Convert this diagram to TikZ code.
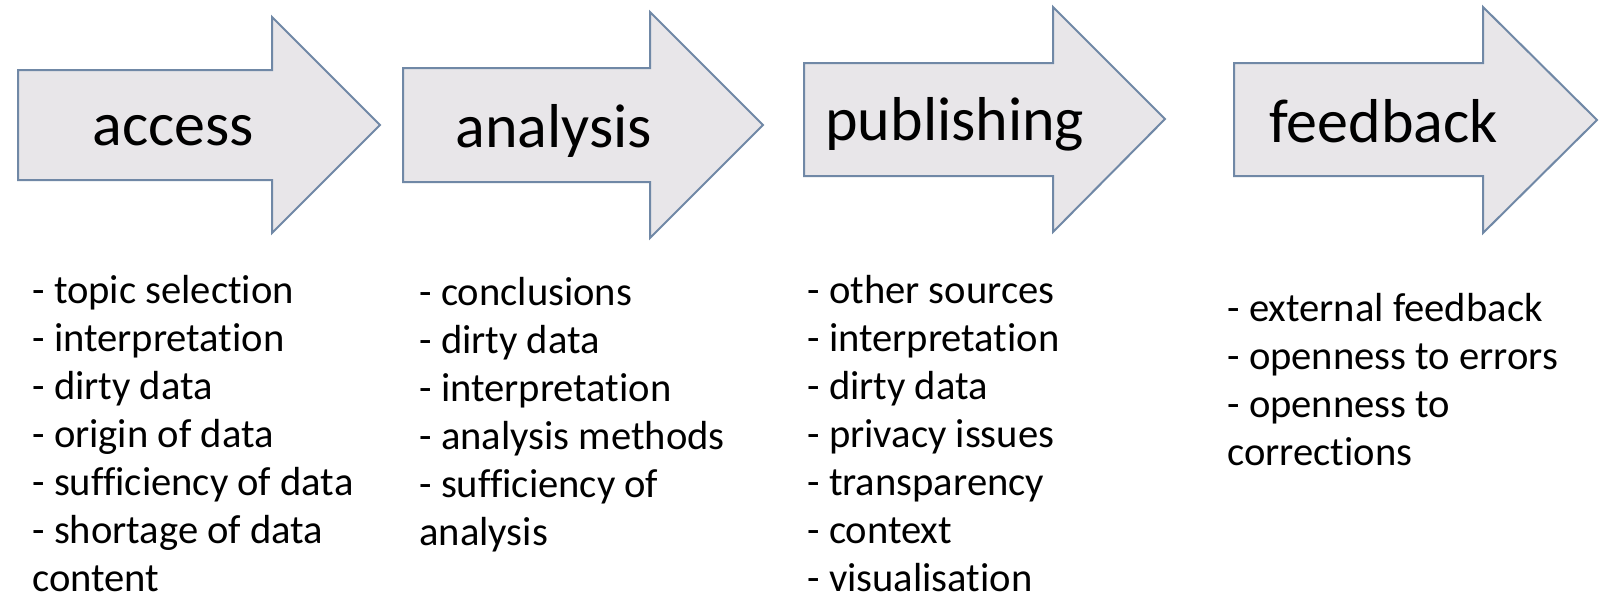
\documentclass[tikz,border=0pt]{standalone}
\usepackage{fontspec}
\setmainfont{Carlito}[Ligatures={NoCommon}]
\definecolor{arrowfill}{RGB}{232,230,233}
\definecolor{arrowline}{RGB}{112,136,166}
\begin{document}
\begin{tikzpicture}[x=0.5pt,y=-0.5pt,
  bigarrow/.style={fill=arrowfill,draw=arrowline,line width=1pt,line join=miter},
  headlabel/.style={anchor=base west,inner sep=0pt,font=\fontsize{31}{37}\selectfont},
  listtext/.style={anchor=north west,inner sep=0pt,align=left,font=\fontsize{20.3}{24}\selectfont}]
\fill[white] (0,0) rectangle (1602,600);
\useasboundingbox (0,0) rectangle (1602,600);
% arrows
\draw[bigarrow] (18,70) -- (272,70) -- (272,17) -- (380,125) -- (272,233) -- (272,180) -- (18,180) -- cycle;
\draw[bigarrow] (403,68) -- (650,68) -- (650,12) -- (763,125) -- (650,238) -- (650,182) -- (403,182) -- cycle;
\draw[bigarrow] (804,63) -- (1053,63) -- (1053,7) -- (1165,119) -- (1053,232) -- (1053,176) -- (804,176) -- cycle;
\draw[bigarrow] (1234,63) -- (1483,63) -- (1483,7) -- (1597,120) -- (1483,233) -- (1483,176) -- (1234,176) -- cycle;
% labels
\node[headlabel] (h1) at (92,145) {access};
\node[headlabel] (h2) at (455,147) {analysis};
\node[headlabel] (h3) at (825,140) {publishing};
\node[headlabel] (h4) at (1269,142) {feedback};
% lists
\node[listtext] (l1) at (32,271) {\rule{0pt}{16pt}- topic selection\\- interpretation\\- dirty data\\- origin of data\\- sufficiency of data\\- shortage of data\\content};
\node[listtext] (l2) at (419,273) {\rule{0pt}{16pt}- conclusions\\- dirty data\\- interpretation\\- analysis methods\\- sufficiency of\\analysis};
\node[listtext] (l3) at (807,271) {\rule{0pt}{16pt}- other sources\\- interpretation\\- dirty data\\- privacy issues\\- transparency\\- context\\- visualisation};
\node[listtext] (l4) at (1227,289) {\rule{0pt}{16pt}- external feedback\\- openness to errors\\- openness to\\corrections};
\end{tikzpicture}
\end{document}
